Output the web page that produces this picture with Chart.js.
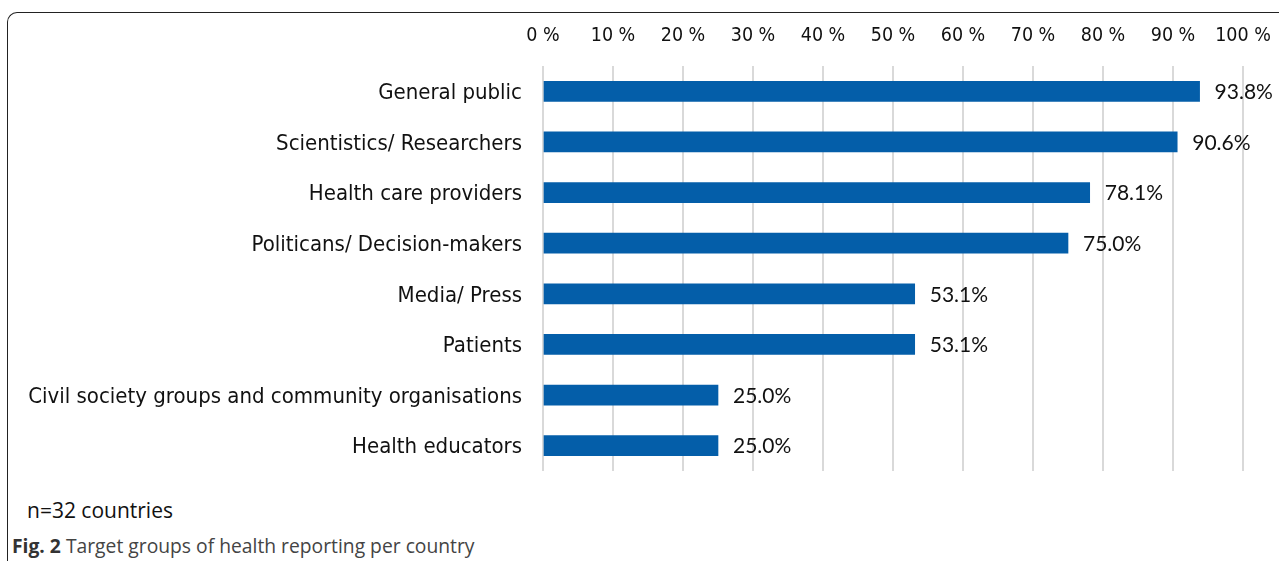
<!DOCTYPE html>
<html><head><meta charset="utf-8">
<script src="https://cdn.jsdelivr.net/npm/chart.js@4/dist/chart.umd.min.js"></script>
<style>
html,body{margin:0;padding:0;background:#fff;width:1279px;height:561px;overflow:hidden;position:relative}
#frame{position:absolute;left:7px;top:12px;width:1400px;height:700px;border-left:1.5px solid #222;border-top:1.5px solid #222;border-top-left-radius:10px}
#wrap{position:absolute;left:0;top:0;width:1279px;height:490px}
#note{position:absolute;left:27px;top:496px;font-family:"Open Sans",sans-serif;font-size:21px;color:#111}
#cap{position:absolute;left:12px;top:532px;font-family:"Open Sans",sans-serif;font-size:19.3px;color:#444}
#cap b{color:#333}
</style></head>
<body>
<div id="frame"></div>
<div id="wrap"><canvas id="c"></canvas></div>
<div id="note">n=32 countries</div>
<div id="cap"><b>Fig. 2</b> Target groups of health reporting per country</div>
<script>
const categories = ["General public","Scientistics/ Researchers","Health care providers","Politicans/ Decision-makers","Media/ Press","Patients","Civil society groups and community organisations","Health educators"];
const values = [93.8, 90.6, 78.1, 75.0, 53.1, 53.1, 25.0, 25.0];
const tickValues = [0,10,20,30,40,50,60,70,80,90,100];

const labelPlugin = {
  id:'valueLabels',
  afterDatasetsDraw(chart){
    const ctx = chart.ctx;
    const meta = chart.getDatasetMeta(0);
    ctx.save();
    ctx.font = '21px Lato, "Liberation Sans", sans-serif';
    ctx.fillStyle = '#111';
    ctx.textBaseline = 'middle';
    ctx.textAlign = 'left';
    meta.data.forEach((bar,i)=>{
      ctx.fillText(values[i].toFixed(1)+'%', bar.x + 15, bar.y + 1);
    });
    ctx.restore();
  }
};

new Chart(document.getElementById('c'), {
  type:'bar',
  data:{labels:categories, datasets:[{data:values, backgroundColor:'#045ea9', barThickness:20}]},
  options:{
    indexAxis:'y',
    responsive:true, maintainAspectRatio:false, animation:false,
    layout:{padding:{left:0,right:36,top:0,bottom:19}},
    plugins:{legend:{display:false}, tooltip:{enabled:false}},
    scales:{
      x:{position:'top', min:0, max:100,
        afterBuildTicks(s){ s.ticks = tickValues.map(v=>({value:v})); },
        afterFit(s){ s.height = 66; s.paddingLeft = 0; s.paddingRight = 0; },
        grid:{color:'#d9d9d9', lineWidth:2, drawTicks:false},
        border:{display:false},
        ticks:{padding:18, color:'#111', font:{family:'"DejaVu Sans Condensed", sans-serif', size:19.5}, callback:v=>v+' %', maxRotation:0, autoSkip:false}
      },
      y:{
        afterFit(s){ s.width = 543; s.paddingTop = 0; s.paddingBottom = 0; },
        grid:{display:false, drawTicks:false},
        border:{display:false},
        ticks:{padding:21, labelOffset:2, color:'#111', font:{family:'"DejaVu Sans Condensed", sans-serif', size:22}, autoSkip:false}
      }
    }
  },
  plugins:[labelPlugin]
});
</script>
</body></html>
